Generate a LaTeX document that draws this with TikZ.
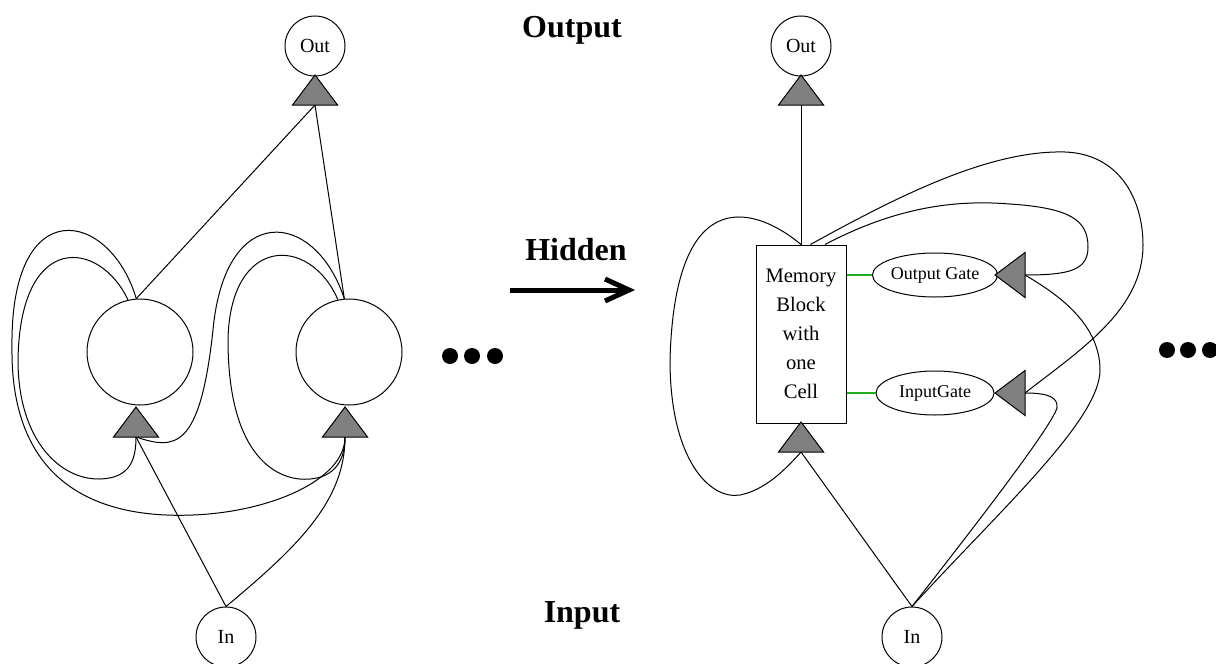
\documentclass[tikz,border=0pt]{standalone}
\usepackage{fontspec}
\setmainfont{Liberation Serif}
\usetikzlibrary{shapes.geometric,arrows.meta}
\definecolor{gateline}{RGB}{30,175,30}

\begin{document}
\begin{tikzpicture}
[
x=0.5pt, y=-0.5pt,
line width=0.5pt,
unit/.style={circle, draw, minimum size=30pt, inner sep=0pt, font=\fontsize{10}{12}\selectfont},
hid/.style={circle, draw, minimum size=53pt, inner sep=0pt},
memblock/.style={rectangle, draw, minimum width=45pt, minimum height=89pt, align=center, font=\fontsize{10.3}{14.5}\selectfont},
gate/.style={ellipse, draw, minimum width=59pt, minimum height=22pt, inner sep=0pt, font=\fontsize{9}{11}\selectfont},
lbl/.style={anchor=base, font=\fontsize{16}{19}\selectfont\bfseries},
tri/.pic={\filldraw[fill=gray] (-22.5,0) -- (22.5,0) -- (0,-30) -- cycle;}
]
\useasboundingbox (0,0) rectangle (1216,664);

% left net
\node[unit] (outL) at (315,46) {Out};
\node[hid] (h1) at (140,352) {};
\node[hid] (h2) at (349,352) {};
\node[unit] (inL) at (226,637) {In};
\coordinate (triOutL) at (315,105);
\coordinate (triH1) at (136,437);
\coordinate (triH2) at (345,437);

\draw (h1.94) -- (triOutL);
\draw (h2.95) -- (triOutL);
\draw (inL.north) -- (triH1);
\draw (inL.north) .. controls (300,545) and (345,500) .. (triH2);
\draw (h1.103) .. controls (100,240) and (20,230) .. (18,360) .. controls (18,440) and (60,480) .. (100,479) .. controls (130,478) and (136,460) .. (triH1);
\draw (h1.94) .. controls (110,210) and (10,190) .. (12,347) .. controls (10,500) and (120,518) .. (193,515) .. controls (270,512) and (345,480) .. (triH2);
\draw (h2.95) .. controls (315,210) and (225,200) .. (213,330) .. controls (200,450) and (175,450) .. (triH1);
\draw (h2.102) .. controls (310,235) and (230,235) .. (228,340) .. controls (228,460) and (280,482) .. (310,479) .. controls (335,477) and (345,460) .. (triH2);

\pic at (triOutL) {tri};
\pic at (triH1) {tri};
\pic at (triH2) {tri};

% right net
\node[unit] (outR) at (801,46) {Out};
\node[memblock] (mem) at (801,334) {Memory\\Block\\with\\one\\Cell};
\node[gate] (og) at (935,275) {Output Gate};
\node[gate] (ig) at (935,393) {InputGate};
\node[unit] (inR) at (912,637) {In};
\coordinate (triOutR) at (801,105);
\coordinate (triMem) at (801,452);
\coordinate (triOG) at (1025,275);
\coordinate (triIG) at (1025,393);

\draw (mem.north) -- (triOutR);
\draw (inR.north) -- (triMem);
\draw (mem.north) .. controls (760,210) and (675,175) .. (670,360) .. controls (670,460) and (710,500) .. (740,495) .. controls (765,490) and (785,470) .. (triMem);
\draw (mem.75) .. controls (900,205) and (960,200) .. (1010,204) .. controls (1070,208) and (1088,220) .. (1088,247) .. controls (1088,270) and (1070,275) .. (triOG);
\draw (mem.84) .. controls (900,195) and (990,150) .. (1065,152) .. controls (1120,154) and (1143,200) .. (1143,245) .. controls (1143,310) and (1080,350) .. (triIG);
\draw (inR.north) .. controls (960,545) and (1050,430) .. (1057,408) .. controls (1058,398) and (1050,393) .. (triIG);
\draw (inR.north) .. controls (1000,510) and (1100,420) .. (1100,370) .. controls (1100,320) and (1050,290) .. (triOG);
\draw[gateline, line width=0.6pt] (og.west -| mem.east) -- (og.west);
\draw[gateline, line width=0.6pt] (ig.west -| mem.east) -- (ig.west);

\pic at (triOutR) {tri};
\pic at (triMem) {tri};
\pic[rotate=90] at (triOG) {tri};
\pic[rotate=90] at (triIG) {tri};

% layer labels
\node[lbl] (lblOut) at (572,38) {Output};
\node[lbl] (lblHid) at (576,260) {Hidden};
\node[lbl] (lblIn) at (582,622) {Input};
\coordinate (arrS) at (510,290);
\coordinate (arrE) at (635,290);
\draw[line width=2.5pt, -{Straight Barb[length=12pt, width=11pt]}] (arrS) -- (arrE);

\foreach \x in {450,472,495} \fill (\x,356) circle (4pt);
\foreach \x in {1167,1188,1210} \fill (\x,350) circle (4pt);
\end{tikzpicture}
\end{document}
